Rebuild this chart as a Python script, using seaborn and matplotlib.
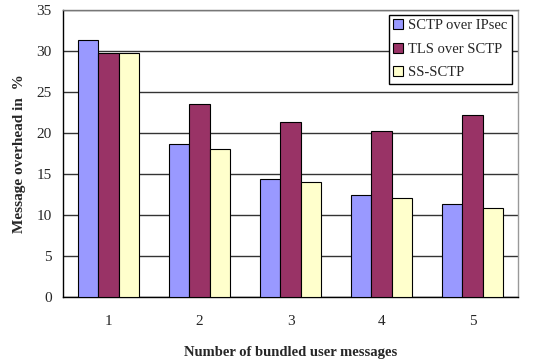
import matplotlib
matplotlib.use("Agg")
import matplotlib.pyplot as plt
import seaborn as sns
import pandas as pd
from matplotlib.ticker import FixedLocator

categories = ["1", "2", "3", "4", "5"]
series_names = ["SCTP over IPsec", "TLS over SCTP", "SS-SCTP"]
sctp_ipsec = [31.3, 18.7, 14.4, 12.4, 11.3]
tls_sctp = [29.7, 23.5, 21.4, 20.3, 22.2]
ss_sctp = [29.7, 18.0, 14.0, 12.1, 10.9]
colors = ["#9999FF", "#993366", "#FFFFCC"]
y_ticks = [0, 5, 10, 15, 20, 25, 30, 35]

rows = []
for name, vals in zip(series_names, [sctp_ipsec, tls_sctp, ss_sctp]):
    for c, v in zip(categories, vals):
        rows.append({"n": c, "overhead": v, "series": name})
df = pd.DataFrame(rows)

sns.set_style("white")
plt.rcParams["font.family"] = ["Liberation Serif", "DejaVu Serif"]

fig = plt.figure(figsize=(5.45, 3.62), dpi=100)
ax = fig.add_axes([63 / 545, 65 / 362, 455 / 545, 287 / 362])

sns.barplot(data=df, x="n", y="overhead", hue="series", order=categories,
            hue_order=series_names, palette=colors, width=0.66, gap=0,
            edgecolor="black", linewidth=0.8, saturation=1, ax=ax, zorder=3)

ax.set_ylim(0, 35)
ax.set_xlim(-0.5, 4.5)
ax.set_yticks(y_ticks)
ax.yaxis.grid(True, color="#333333", linewidth=1.0, zorder=0)
ax.set_axisbelow(True)

# category boundary ticks on the x axis
ax.xaxis.set_minor_locator(FixedLocator([i - 0.5 for i in range(len(categories) + 1)]))
ax.tick_params(axis="x", which="major", length=0, labelsize=11, pad=13)
ax.tick_params(axis="x", which="minor", length=4, width=1, color="black", direction="out")
ax.tick_params(axis="y", length=4, width=1, color="black", direction="out", labelsize=11, pad=4)

ax.spines["left"].set_color("black")
ax.spines["bottom"].set_color("black")
ax.spines["right"].set_color("#999999")
ax.spines["top"].set_color("#777777")
for s in ["left", "bottom", "right", "top"]:
    ax.spines[s].set_linewidth(1.0)

ax.set_xlabel("Number of bundled user messages", fontsize=10.5, fontweight="bold", labelpad=13)
ax.set_ylabel("Message overhead in  %", fontsize=11, fontweight="bold", labelpad=8)

leg = ax.legend(loc="upper right", bbox_to_anchor=(0.987, 0.983), fontsize=10.5,
                frameon=True, fancybox=False, framealpha=1, edgecolor="black",
                handlelength=0.7, handleheight=0.7, handletextpad=0.35,
                borderpad=0.3, labelspacing=0.7, borderaxespad=0)
leg.get_frame().set_linewidth(1.0)
leg.set_zorder(5)

fig.savefig("out.png", dpi=100)
